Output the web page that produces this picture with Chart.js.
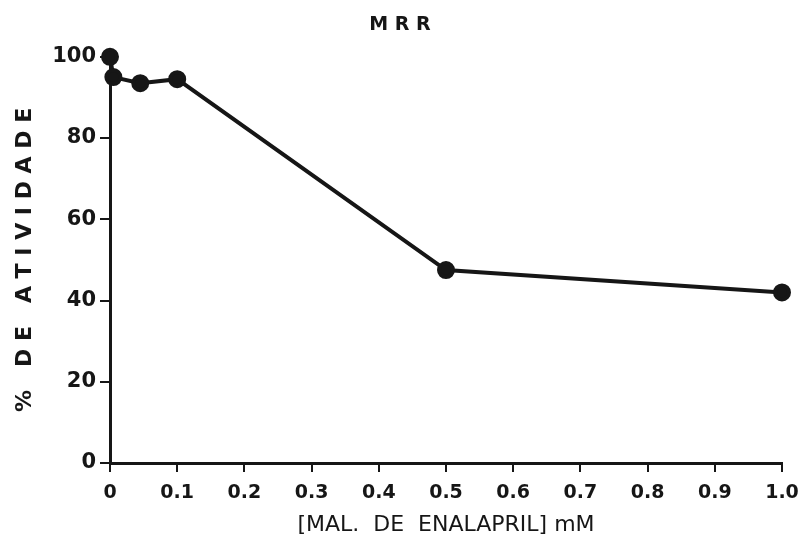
<!DOCTYPE html>
<html>
<head>
<meta charset="utf-8">
<script src="https://cdn.jsdelivr.net/npm/chart.js@4"></script>
<style>
  html, body { margin: 0; padding: 0; background: #fff; }
  #wrap { width: 800px; height: 540px; }
</style>
</head>
<body>
<div id="wrap"><canvas id="graficoMRR" width="800" height="540"></canvas></div>
<script>
// Concentração de enalapril (mM) e % de atividade
const concentracao = [0, 0.005, 0.045, 0.1, 0.5, 1.0];
const atividade = [100, 95, 93.5, 94.5, 47.5, 42];

const xTicks = [0, 0.1, 0.2, 0.3, 0.4, 0.5, 0.6, 0.7, 0.8, 0.9, 1.0];
const xTickLabels = ['0', '0.1', '0.2', '0.3', '0.4', '0.5', '0.6', '0.7', '0.8', '0.9', '1.0'];
const yTicks = [0, 20, 40, 60, 80, 100];

const tinta = '#161616';
const fonte = "'DejaVu Sans', sans-serif";

document.addEventListener('DOMContentLoaded', function() {

new Chart(document.getElementById('graficoMRR').getContext('2d'), {
    type: 'scatter',
    data: {
        datasets: [{
            data: concentracao.map((x, i) => ({ x: x, y: atividade[i] })),
            showLine: true,
            borderColor: tinta,
            backgroundColor: tinta,
            borderWidth: 4,
            pointRadius: 7,
            pointHoverRadius: 7,
            clip: false
        }]
    },
    options: {
        responsive: false,
        animation: false,
        layout: { padding: { left: 0, right: 0, top: 0, bottom: 0 } },
        plugins: {
            legend: { display: false },
            tooltip: { enabled: false },
            title: {
                display: true,
                text: 'M R R',
                color: tinta,
                font: { family: fonte, size: 19, weight: 'bold' },
                padding: { top: 14, bottom: 20 }
            }
        },
        scales: {
            x: {
                type: 'linear',
                min: 0,
                max: 1,
                afterBuildTicks: s => { s.ticks = xTicks.map(v => ({ value: v })); },
                afterFit: s => { s.height = 77; s.paddingRight = 18; },
                ticks: {
                    color: tinta,
                    font: { family: fonte, size: 19, weight: 'bold' },
                    padding: 10,
                    maxRotation: 0,
                    callback: (v, i) => xTickLabels[i]
                },
                grid: { display: true, drawOnChartArea: false, drawTicks: true, tickLength: 9, color: tinta, lineWidth: 2 },
                border: { display: true, color: tinta, width: 3 },
                title: {
                    display: true,
                    text: '[MAL.  DE  ENALAPRIL] mM',
                    color: tinta,
                    font: { family: fonte, size: 22 },
                    padding: { top: 0, bottom: 2 }
                }
            },
            y: {
                min: 0,
                max: 100,
                afterBuildTicks: s => { s.ticks = yTicks.map(v => ({ value: v })); },
                afterFit: s => { s.width = 110; },
                ticks: {
                    color: tinta,
                    font: { family: fonte, size: 21, weight: 'bold' },
                    padding: 4
                },
                grid: { display: true, drawOnChartArea: false, drawTicks: true, tickLength: 10, color: tinta, lineWidth: 2 },
                border: { display: true, color: tinta, width: 3 },
                title: {
                    display: true,
                    text: '%   D E   A T I V I D A D E',
                    color: tinta,
                    font: { family: fonte, size: 22, weight: 'bold' },
                    padding: { top: 12, bottom: 0 }
                }
            }
        }
    }
});

});
</script>
</body>
</html>
